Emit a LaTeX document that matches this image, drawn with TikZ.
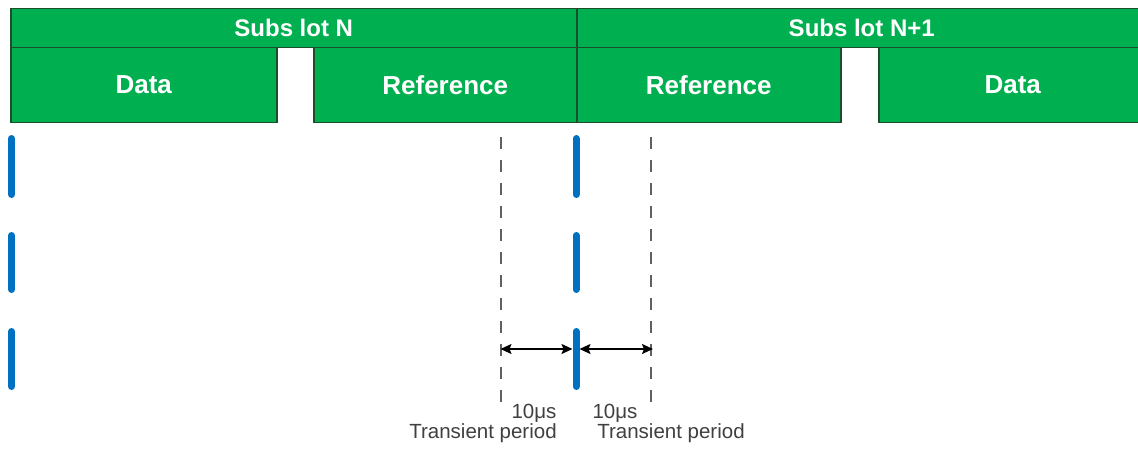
\documentclass[tikz,border=0pt]{standalone}
\usepackage{fontspec}
\setmainfont{Liberation Sans}
\usetikzlibrary{arrows.meta}
\definecolor{grn}{HTML}{00B050}
\definecolor{grnline}{HTML}{1E4D2B}
\definecolor{blu}{HTML}{0070C0}
\definecolor{dashgray}{HTML}{606060}
\definecolor{txtgray}{HTML}{404040}
\begin{document}
\begin{tikzpicture}[x=1pt,y=-1pt,
  hdr/.style={draw=grnline, line width=1.5pt, fill=grn, text=white,
    font=\bfseries\fontsize{24}{28}\selectfont, anchor=north west, inner sep=0pt},
  cell/.style={hdr, font=\bfseries\fontsize{26}{30}\selectfont, minimum height=75pt},
  bar/.style={blu, line width=7pt, line cap=round},
  guide/.style={dashgray, line width=2pt, dash pattern=on 12pt off 11pt},
  span/.style={{Stealth[length=11pt,width=10pt,inset=2pt]}-{Stealth[length=11pt,width=10pt,inset=2pt]},
    line width=1.6pt, black},
  lbl/.style={text=txtgray, font=\fontsize{20.5}{24}\selectfont, inner sep=0pt, anchor=base}]
\useasboundingbox (0,0) rectangle (1138,450);
% header row
\node[hdr, minimum width=566pt, minimum height=39pt] (sn) at (10,7.5) {Subs lot N};
\node[hdr, minimum width=570pt, minimum height=39pt] (sn1) at (576,7.5) {Subs lot N+1};
% second row
\node[cell, minimum width=266pt] (d1) at (10,46.5) {Data};
\node[cell, minimum width=263pt] (r1) at (313,46.5) {Reference};
\node[cell, minimum width=264pt] (r2) at (576,46.5) {Reference};
\node[cell, minimum width=268pt] (d2) at (878,46.5) {Data};
% blue bars
\foreach \x/\n in {11.5/a,576/b,1141/c}{
  \draw[bar] (\x,138.5) -- (\x,194.5);
  \draw[bar] (\x,235.5) -- (\x,289.5);
  \draw[bar] (\x,331.5) -- (\x,386.5);
  \coordinate (bar\n) at (\x,349);
}
% dashed guides
\coordinate (gLtop) at (500.5,137);
\coordinate (gLbot) at (500.5,404);
\coordinate (gRtop) at (651,137);
\coordinate (gRbot) at (651,404);
\draw[guide] (gLtop) -- (gLbot);
\draw[guide] (gRtop) -- (gRbot);
% dimension arrows
\coordinate (aL1) at (500.5,349);
\coordinate (aL2) at (572.5,349);
\coordinate (aR1) at (579.5,349);
\coordinate (aR2) at (653,349);
\draw[span] (aL1) -- (aL2);
\draw[span] (aR1) -- (aR2);
% labels
\node[lbl] (t1) at (534,418) {10μs};
\node[lbl] (p1) at (483,438) {Transient period};
\node[lbl] (t2) at (615,418) {10μs};
\node[lbl] (p2) at (671,438) {Transient period};
\end{tikzpicture}
\end{document}
